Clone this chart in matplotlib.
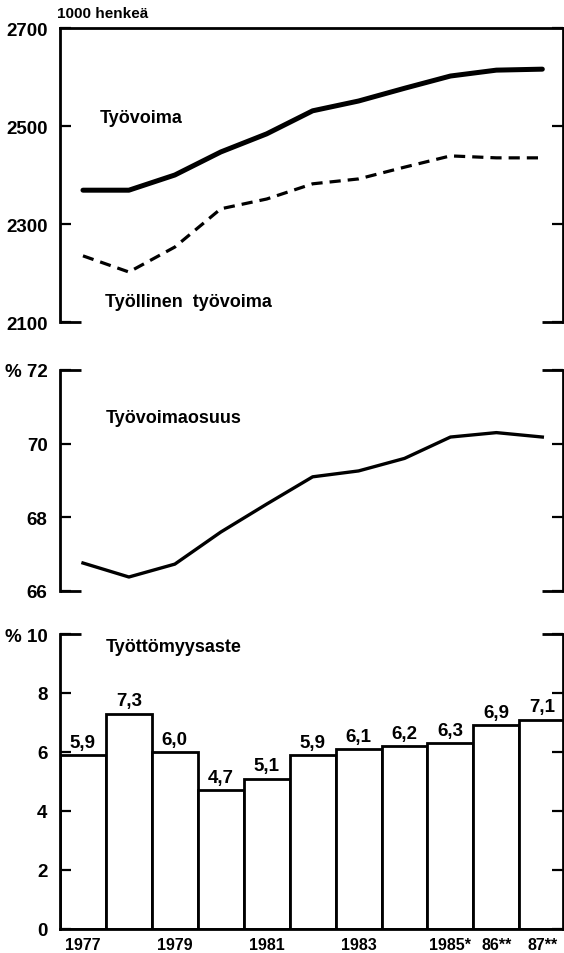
import matplotlib
matplotlib.use('Agg')
import matplotlib.pyplot as plt

# data
years = ['1977', '1978', '1979', '1980', '1981', '1982', '1983', '1984', '1985', '1986', '1987']
xlabels = ['1977', '', '1979', '', '1981', '', '1983', '', '1985*', '86**', '87**']
tyovoima = [2369, 2369, 2400, 2447, 2484, 2531, 2551, 2577, 2602, 2614, 2616]
tyollinen = [2235, 2202, 2253, 2331, 2351, 2382, 2392, 2416, 2439, 2435, 2435]
osuus = [66.76, 66.38, 66.73, 67.6, 68.36, 69.1, 69.26, 69.6, 70.18, 70.3, 70.18]
tyottomyys = [5.9, 7.3, 6.0, 4.7, 5.1, 5.9, 6.1, 6.2, 6.3, 6.9, 7.1]

plt.rcParams['font.family'] = ['Liberation Sans', 'DejaVu Sans']
plt.rcParams['font.weight'] = 'bold'

x = list(range(len(years)))

fig = plt.figure(figsize=(5.64, 9.54), dpi=100)
L, W = 60 / 564, 503 / 564
ax1 = fig.add_axes([L, 631 / 954, W, 294 / 954])
ax2 = fig.add_axes([L, 362 / 954, W, 221 / 954])
ax3 = fig.add_axes([L, 24 / 954, W, 295 / 954])


def frame(ax, ylim, ticks, labels, top_full, bottom_full):
    ax.set_xlim(-0.5, 10.45)
    ax.set_ylim(ylim)
    for s in ax.spines.values():
        s.set_linewidth(2)
    ax.spines['top'].set_visible(top_full)
    ax.spines['bottom'].set_visible(bottom_full)
    ax.set_yticks(ticks)
    ax.set_yticklabels(labels, fontsize=13.5, fontweight='bold')
    ax.tick_params(axis='y', direction='in', length=8, width=1.6,
                   left=True, right=True, pad=9)
    ax.tick_params(axis='x', length=0)
    ax.set_xticks([])
    # short stubs at the open ends of the frame
    ends = []
    if not top_full:
        ends.append(ylim[1])
    if not bottom_full:
        ends.append(ylim[0])
    for y in ends:
        ax.plot([0, 0.042], [y, y], transform=ax.get_yaxis_transform(),
                color='k', lw=2, clip_on=False, solid_capstyle='butt')
        ax.plot([0.958, 1], [y, y], transform=ax.get_yaxis_transform(),
                color='k', lw=2, clip_on=False, solid_capstyle='butt')


# top panel: labour force
frame(ax1, (2100, 2700), [2100, 2300, 2500, 2700],
      ['2100', '2300', '2500', '2700'], True, False)
ax1.plot(x, tyovoima, color='k', lw=3.6, solid_capstyle='round')
ax1.plot(x, tyollinen, color='k', lw=2.3, linestyle=(0, (3.5, 2.2)))
ax1.text(0.37, 2518, 'Työvoima', fontsize=13, fontweight='bold', va='center')
ax1.text(0.48, 2141, 'Työllinen  työvoima', fontsize=13, fontweight='bold', va='center')
ax1.text(-0.006, 1.051, '1000 henkeä', transform=ax1.transAxes, fontsize=11,
         fontweight='bold', va='center')

# middle panel: participation rate
frame(ax2, (66, 72), [66, 68, 70, 72], ['66', '68', '70', '% 72'], False, False)
ax2.plot(x, osuus, color='k', lw=2.4)
ax2.text(0.5, 70.7, 'Työvoimaosuus', fontsize=13, fontweight='bold', va='center')

# bottom panel: unemployment rate
frame(ax3, (0, 10), [0, 2, 4, 6, 8, 10], ['0', '2', '4', '6', '8', '% 10'], False, True)
ax3.bar(x, tyottomyys, width=1.0, color='white', edgecolor='k', linewidth=2)
for xi, v in zip(x, tyottomyys):
    ax3.annotate(f'{v:.1f}'.replace('.', ','), (xi, v), xytext=(0, 3),
                 textcoords='offset points', ha='center', va='bottom',
                 fontsize=13.5, fontweight='bold')
ax3.text(0.5, 9.56, 'Työttömyysaste', fontsize=13, fontweight='bold', va='center')
ax3.set_xticks(x)
ax3.set_xticklabels(xlabels, fontsize=11.5, fontweight='bold')
ax3.tick_params(axis='x', length=0, pad=6)

fig.savefig('out.png', dpi=100)
